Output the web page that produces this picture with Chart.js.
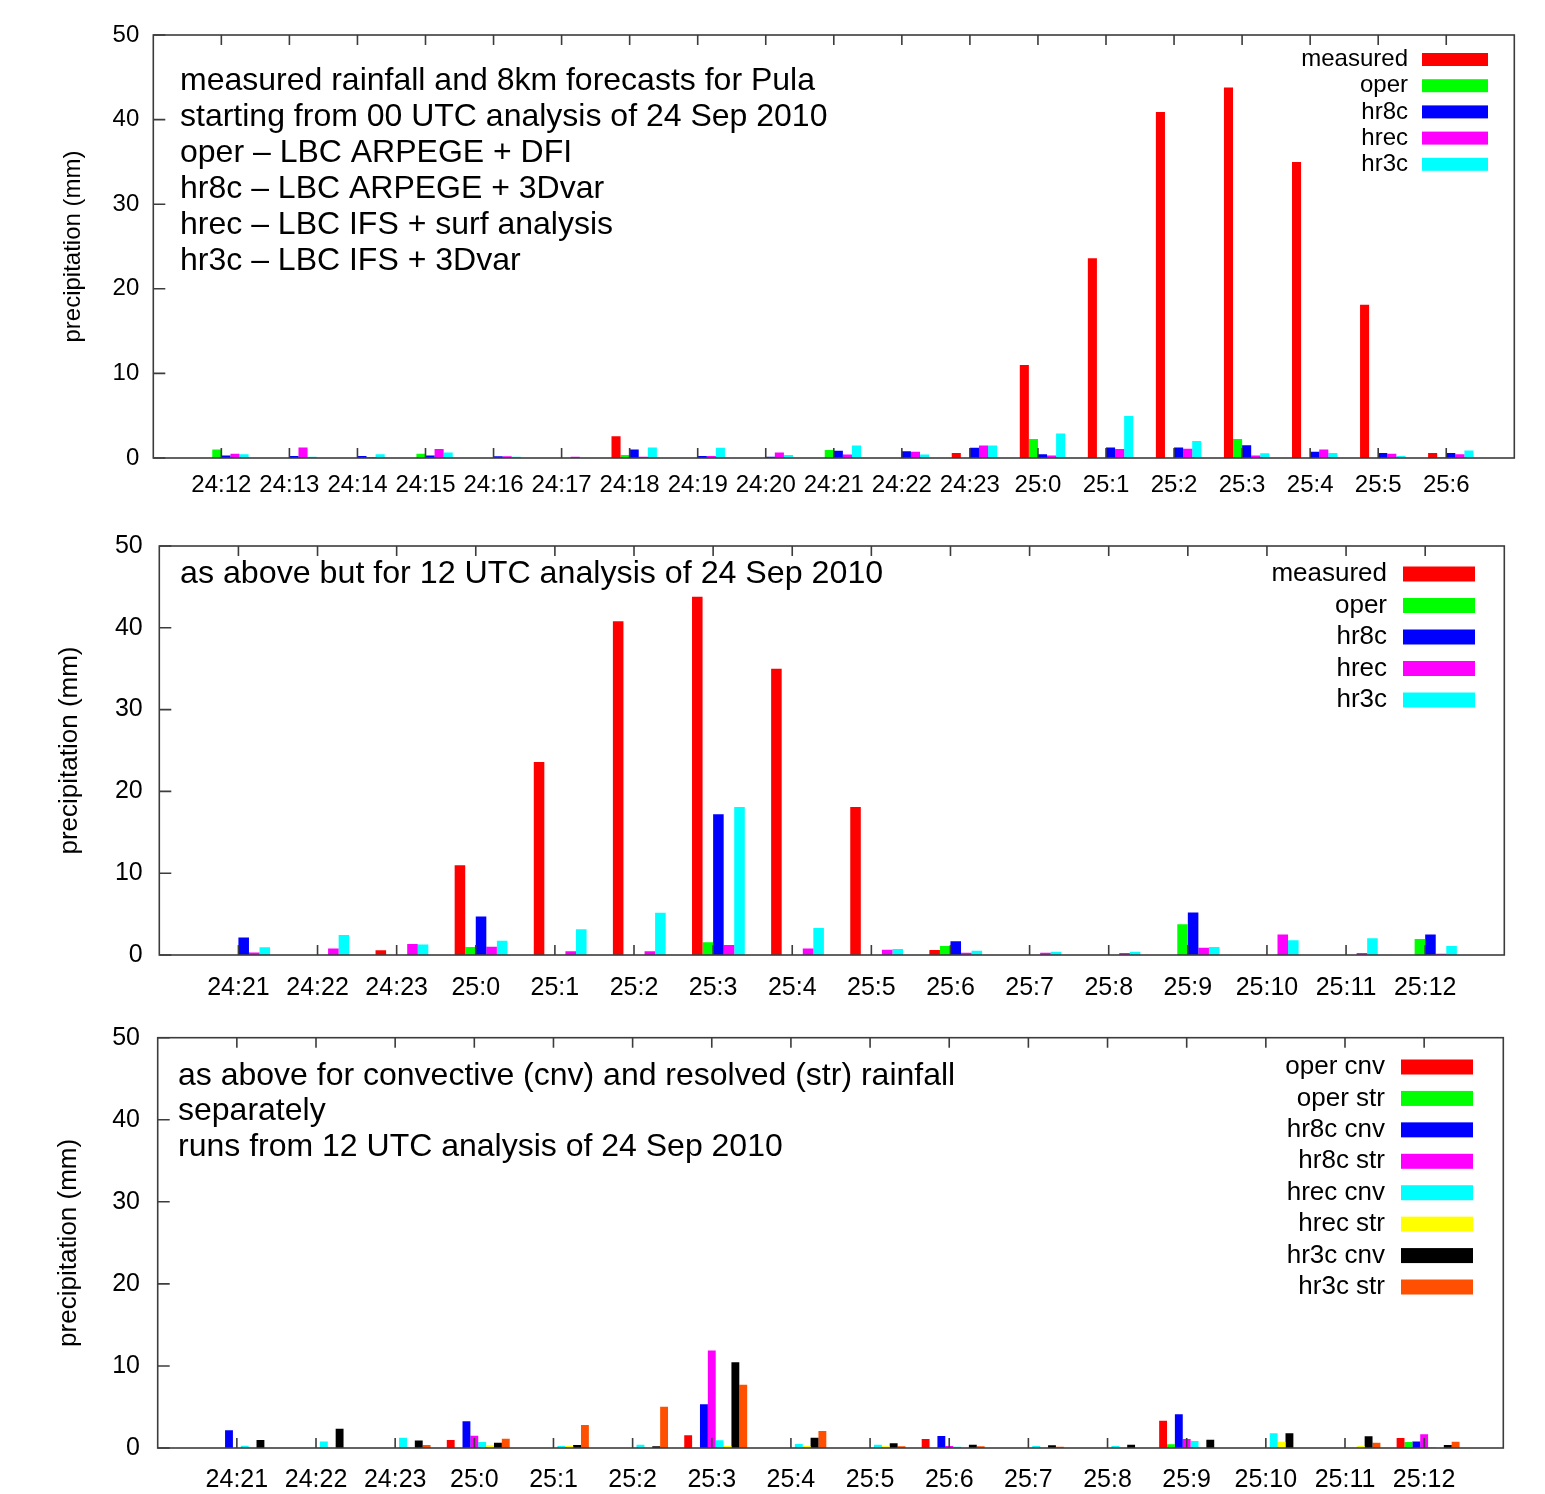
<!DOCTYPE html>
<html><head><meta charset="utf-8">
<script src="https://cdn.jsdelivr.net/npm/chart.js@4.4.1/dist/chart.umd.min.js"></script>
<style>
html,body{margin:0;padding:0;background:#fff;}
body{width:1545px;height:1494px;position:relative;overflow:hidden;}
canvas{position:absolute;left:0;}
</style></head><body>
<canvas id="c1" style="top:0px"></canvas>
<canvas id="c2" style="top:505px"></canvas>
<canvas id="c3" style="top:1000px"></canvas>
<script>
// ---------- data ----------
const hours1 = ['24:12','24:13','24:14','24:15','24:16','24:17','24:18','24:19','24:20','24:21','24:22','24:23','25:0','25:1','25:2','25:3','25:4','25:5','25:6'];
const measured1 = [0,0,0,0,0,0,2.57,0,0,0,0,0.6,11.0,23.6,40.9,43.8,35.0,18.1,0.6];
const oper1     = [1.0,0,0,0.5,0,0,0.35,0,0,0.95,0,0,2.25,0,0,2.25,0,0,0.1];
const hr8c1     = [0.3,0.25,0.25,0.3,0.2,0,1.0,0.25,0.15,0.87,0.8,1.2,0.45,1.25,1.25,1.5,0.75,0.6,0.6];
const hrec1     = [0.5,1.25,0.1,1.05,0.2,0.15,0.15,0.25,0.65,0.4,0.75,1.47,0.3,1.07,1.1,0.3,1.0,0.5,0.45];
const hr3c1     = [0.45,0.15,0.45,0.65,0.15,0,1.25,1.2,0.35,1.47,0.4,1.47,2.9,4.95,2.0,0.55,0.6,0.25,0.9];

const hours2 = ['24:21','24:22','24:23','25:0','25:1','25:2','25:3','25:4','25:5','25:6','25:7','25:8','25:9','25:10','25:11','25:12'];
const measured2 = [0,0,0.57,10.96,23.6,40.8,43.8,35.0,18.1,0.6,0,0,0,0,0,0];
const oper2     = [0,0,0,0.98,0,0,1.55,0,0,1.1,0,0,3.75,0,0,1.95];
const hr8c2     = [2.15,0,0,4.7,0,0,17.2,0,0,1.67,0,0,5.2,0,0,2.5];
const hrec2     = [0.3,0.78,1.35,1.0,0.45,0.45,1.22,0.78,0.65,0.28,0.28,0.24,0.9,2.5,0.25,0.15];
const hr3c2     = [0.95,2.45,1.27,1.75,3.14,5.17,18.1,3.3,0.73,0.53,0.4,0.4,0.98,1.8,2.04,1.1];

const hours3 = ['24:21','24:22','24:23','25:0','25:1','25:2','25:3','25:4','25:5','25:6','25:7','25:8','25:9','25:10','25:11','25:12'];
const operCnv = [0,0,0,0.98,0,0,1.55,0,0,1.1,0,0,3.33,0,0,1.22];
const operStr = [0,0,0,0,0,0,0,0,0,0,0,0,0.45,0,0,0.73];
const hr8cCnv = [2.15,0,0,3.25,0,0,5.33,0,0,1.46,0,0,4.1,0,0,0.8];
const hr8cStr = [0,0,0,1.5,0,0,11.87,0,0,0.25,0,0,1.1,0,0,1.67];
const hrecCnv = [0.28,0.8,1.26,0.73,0.25,0.4,0.94,0.5,0.4,0.15,0.25,0.25,0.85,1.8,0,0.05];
const hrecStr = [0,0,0.08,0.33,0.25,0,0.25,0.25,0.2,0,0,0,0,0.77,0.25,0];
const hr3cCnv = [0.98,2.35,0.9,0.65,0.37,0.2,10.45,1.26,0.57,0.4,0.33,0.4,1.0,1.8,1.42,0.37];
const hr3cStr = [0,0,0.37,1.14,2.8,5.04,7.72,2.07,0.2,0.2,0.15,0,0,0,0.65,0.77];

const yTicks = [0,10,20,30,40,50];

const notes1 = ['measured rainfall and 8km forecasts for Pula','starting from 00 UTC analysis of 24 Sep 2010','oper \u2013 LBC ARPEGE + DFI','hr8c \u2013 LBC ARPEGE + 3Dvar','hrec \u2013 LBC IFS + surf analysis','hr3c \u2013 LBC IFS + 3Dvar'];
const notes2 = ['as above but for 12 UTC analysis of 24 Sep 2010'];
const notes3 = ['as above for convective (cnv) and resolved (str) rainfall','separately','runs from 12 UTC analysis of 24 Sep 2010'];

// ---------- styles ----------
const RED='#ff0000', GREEN='#00ff00', BLUE='#0000ff', MAG='#ff00ff', CYAN='#00ffff', YEL='#ffff00', BLK='#000000', ORG='#ff4f00';
const TICKFONT='Liberation Sans', NOTEFONT='Liberation Sans';

function build(o){
  const N = o.cats.length;
  const S = o.series.length;
  const d = 0.5*o.cp/S;
  const cv = document.getElementById(o.id);
  cv.width = 1545; cv.height = o.h;
  const A = {left:o.area.left, right:o.area.right, top:o.area.top - o.top, bottom:o.area.bottom - o.top};
  const deco = {
    id:'deco',
    afterDatasetsDraw(chart){
      const {ctx, chartArea:a, scales:{x,y}} = chart;
      ctx.save();
      ctx.strokeStyle='#3c3c3c'; ctx.lineWidth=1.6;
      ctx.beginPath();
      x.ticks.forEach(t=>{
        const px = x.getPixelForValue(t.value);
        ctx.moveTo(px,a.bottom); ctx.lineTo(px,a.bottom-10);
        ctx.moveTo(px,a.top); ctx.lineTo(px,a.top+10);
      });
      y.ticks.forEach(t=>{
        const py = y.getPixelForValue(t.value);
        ctx.moveTo(a.left,py); ctx.lineTo(a.left+12,py);
      });
      ctx.stroke();
      ctx.strokeRect(a.left,a.top,a.right-a.left,a.bottom-a.top);
      // legend
      const L=o.legend;
      ctx.font = L.size+'px "'+TICKFONT+'"';
      ctx.textAlign='right'; ctx.textBaseline='middle';
      chart.data.datasets.forEach((ds,i)=>{
        const yy = L.y0 - o.top + i*L.dy;
        ctx.fillStyle='#000';
        ctx.fillText(ds.label, L.textRight, yy);
        ctx.fillStyle=ds.backgroundColor;
        ctx.fillRect(L.boxX, yy-L.boxH/2, L.boxW, L.boxH);
      });
      // note
      const n=o.note;
      ctx.font = n.size+'px "'+NOTEFONT+'"';
      ctx.textAlign='left'; ctx.textBaseline='middle'; ctx.fillStyle='#000';
      n.lines.forEach((s,i)=>ctx.fillText(s, n.x, n.y0 - o.top + i*n.dy));
      ctx.restore();
    }
  };
  return new Chart(cv, {
    type:'bar',
    data:{datasets:o.series.map(s=>({
      label:s.label,
      data:s.data.map((v,i)=>({x:i,y:v})),
      backgroundColor:s.color, borderWidth:0,
      categoryPercentage:o.cp, barPercentage:1
    }))},
    options:{
      responsive:false, animation:false, devicePixelRatio:1,
      layout:{padding:{left:0, top:A.top, right:1545-A.right, bottom:0}},
      plugins:{legend:{display:false}, tooltip:{enabled:false}},
      scales:{
        x:{type:'linear', offset:false, bounds:'data', min:-1-d, max:N-d,
           afterBuildTicks:s=>{ s.ticks = o.cats.map((c,i)=>({value:i-d})); },
           ticks:{autoSkip:false, maxRotation:0, minRotation:0, padding:o.xPad, color:'#000',
                  font:{family:TICKFONT, size:o.tickSize},
                  callback:(v,i)=>o.cats[i]},
           grid:{display:false, drawTicks:false, offset:false}, border:{display:false},
           afterFit:s=>{ s.height = o.h - A.bottom; }},
        y:{type:'linear', min:0, max:50,
           afterBuildTicks:s=>{ s.ticks = yTicks.map(v=>({value:v})); },
           ticks:{padding:o.yPad, color:'#000', font:{family:TICKFONT, size:o.tickSize}},
           grid:{display:false, drawTicks:false}, border:{display:false},
           title:{display:true, text:'precipitation (mm)', color:'#000',
                  font:{family:TICKFONT, size:o.titleSize}, padding:{top:o.titlePad, bottom:0}},
           afterFit:s=>{ s.width = A.left; }}
      }
    },
    plugins:[deco]
  });
}

build({id:'c1', top:0, h:505, area:{left:153.3,right:1514.3,top:35,bottom:458}, cp:0.667,
  cats:hours1, tickSize:24, xPad:13.4, yPad:14, titleSize:24, titlePad:58.6,
  series:[{label:'measured',data:measured1,color:RED},{label:'oper',data:oper1,color:GREEN},{label:'hr8c',data:hr8c1,color:BLUE},{label:'hrec',data:hrec1,color:MAG},{label:'hr3c',data:hr3c1,color:CYAN}],
  legend:{size:24, textRight:1408, boxX:1422, boxW:66, boxH:13, y0:59.5, dy:26.2},
  note:{lines:notes1, size:32, x:180, y0:81, dy:36}});

build({id:'c2', top:505, h:495, area:{left:159.3,right:1504.3,top:546,bottom:955}, cp:0.667,
  cats:hours2, tickSize:25, xPad:18.5, yPad:16.6, titleSize:26, titlePad:54.4,
  series:[{label:'measured',data:measured2,color:RED},{label:'oper',data:oper2,color:GREEN},{label:'hr8c',data:hr8c2,color:BLUE},{label:'hrec',data:hrec2,color:MAG},{label:'hr3c',data:hr3c2,color:CYAN}],
  legend:{size:26, textRight:1387, boxX:1403, boxW:72, boxH:15, y0:574, dy:31.5},
  note:{lines:notes2, size:32.2, x:180, y0:574.5, dy:36}});

build({id:'c3', top:1000, h:494, area:{left:157.7,right:1503.3,top:1037.7,bottom:1448}, cp:0.795,
  cats:hours3, tickSize:25, xPad:17, yPad:17.7, titleSize:26, titlePad:52.9,
  series:[{label:'oper cnv',data:operCnv,color:RED},{label:'oper str',data:operStr,color:GREEN},{label:'hr8c cnv',data:hr8cCnv,color:BLUE},{label:'hr8c str',data:hr8cStr,color:MAG},{label:'hrec cnv',data:hrecCnv,color:CYAN},{label:'hrec str',data:hrecStr,color:YEL},{label:'hr3c cnv',data:hr3cCnv,color:BLK},{label:'hr3c str',data:hr3cStr,color:ORG}],
  legend:{size:26, textRight:1385, boxX:1401, boxW:72, boxH:15, y0:1067, dy:31.43},
  note:{lines:notes3, size:32, x:178, y0:1076, dy:35.5}});
</script>
</body></html>
